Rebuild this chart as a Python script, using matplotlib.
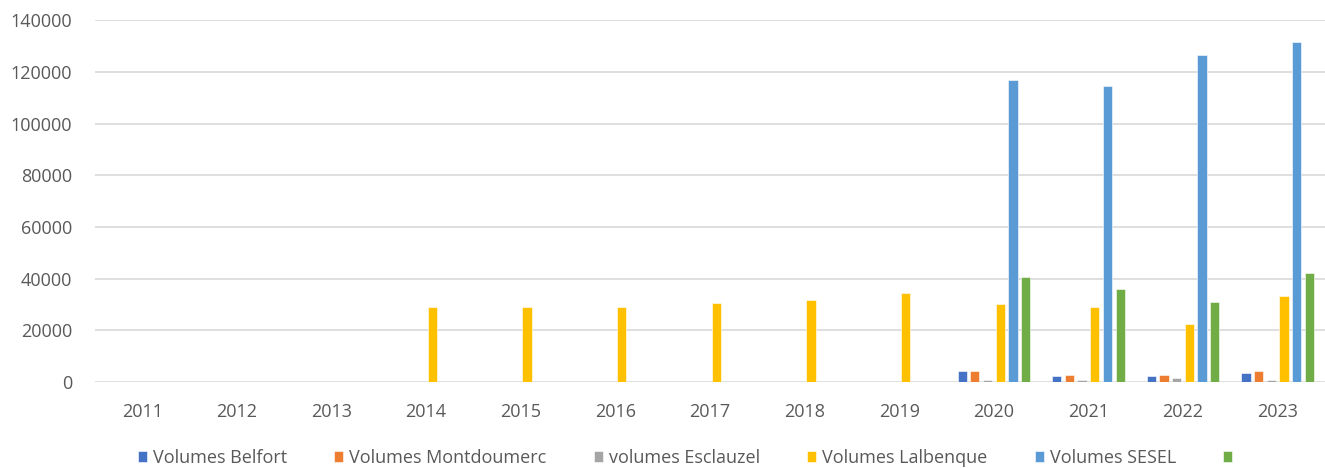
import numpy as np
import matplotlib
matplotlib.use("Agg")
from matplotlib import pyplot as plt

plt.rcParams['font.family'] = ['Open Sans', 'DejaVu Sans']

years = [str(y) for y in range(2011, 2024)]

# volumes per site, 2011 -> 2023 (0 = no data)
belfort = [0, 0, 0, 0, 0, 0, 0, 0, 0, 4250, 2200, 2200, 3600]
montdoumerc = [0, 0, 0, 0, 0, 0, 0, 0, 0, 4250, 2850, 2850, 4250]
esclauzel = [0, 0, 0, 0, 0, 0, 0, 0, 0, 800, 800, 1550, 800]
lalbenque = [0, 0, 0, 29000, 29000, 29000, 30400, 31900, 34600, 30200, 29000, 22600, 33100]
sesel = [0, 0, 0, 0, 0, 0, 0, 0, 0, 116800, 114600, 126600, 131400]
unnamed = [0, 0, 0, 0, 0, 0, 0, 0, 0, 40700, 35900, 30900, 42100]

series = [belfort, montdoumerc, esclauzel, lalbenque, sesel, unnamed]
labels = ['Volumes Belfort', 'Volumes Montdoumerc', 'volumes Esclauzel',
          'Volumes Lalbenque', 'Volumes SESEL', ' ']
colors = ['#4472C4', '#ED7D31', '#A5A5A5', '#FFC000', '#5B9BD5', '#70AD47']

fig = plt.figure(figsize=(13.25, 4.68), dpi=100)
ax = fig.add_axes([0.0717, 0.1838, 0.9283, 0.957 - 0.1838])

x = np.arange(len(years))
slot = 0.134
for i, (vals, lab, col) in enumerate(zip(series, labels, colors)):
    ax.bar(x + (i - 2.5) * slot, vals, width=0.098, color=col, label=lab,
           edgecolor='white', linewidth=0.4, zorder=3)

ax.set_ylim(0, 140000)
ax.set_yticks(np.arange(0, 140001, 20000))
ax.set_xlim(-0.5, 12.5)
ax.set_xticks(x)
ax.set_xticklabels(years)
ax.grid(axis='y', color='#d9d9d9', linewidth=1.2, zorder=0)
for s in ax.spines.values():
    s.set_visible(False)
ax.tick_params(axis='both', length=0, labelsize=13, colors='#595959')
ax.tick_params(axis='x', pad=15)
ax.tick_params(axis='y', pad=16.5)

fig.legend(loc='center', bbox_to_anchor=(0.521, 0.022), ncol=6, frameon=False,
           fontsize=13, handlelength=0.5, handleheight=0.6, handletextpad=0.35,
           columnspacing=2.6, labelcolor='#595959')

fig.savefig('out.png', dpi=100)
